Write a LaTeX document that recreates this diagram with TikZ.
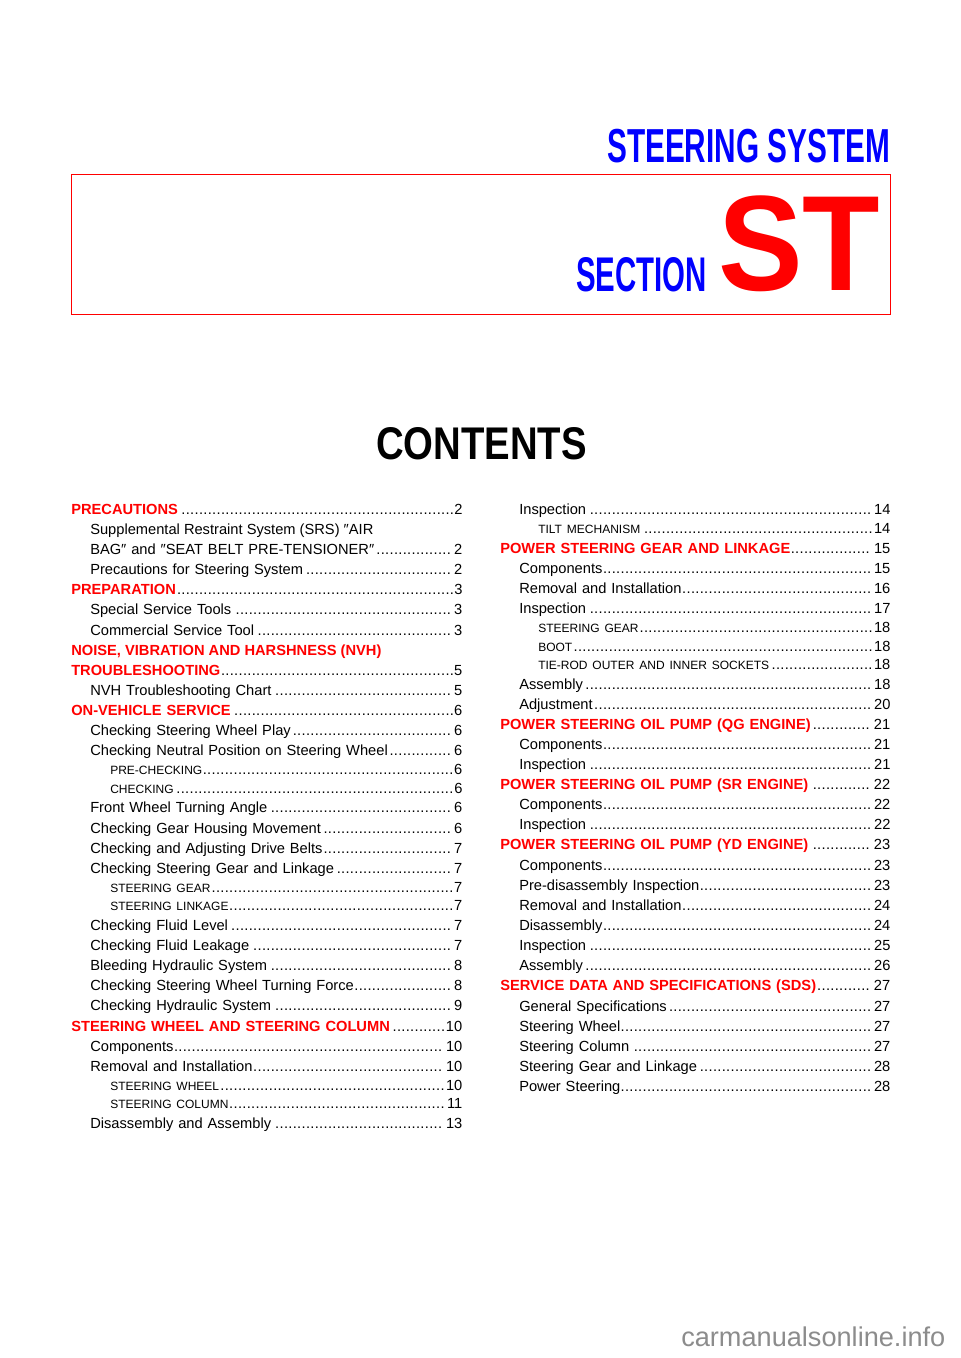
\documentclass[tikz,border=0pt]{standalone}
\usepackage{fontspec}
\usepackage{graphicx}
\setmainfont{Liberation Sans}
\definecolor{tocred}{RGB}{255,0,0}
\definecolor{tocblue}{RGB}{0,0,255}
\newcommand\dotlead{\leaders\hbox to 3.3pt{\hss.\hss}\hfill}
\newcommand\lvred[1]{\textbf{\textcolor{tocred}{#1}}}
\newcommand\lvsmall[1]{{\fontsize{9}{11}\selectfont #1}}
\newcommand\lvplain[1]{#1}

\begin{document}
\begin{tikzpicture}[
        x=0.75pt, y=-0.75pt,
        tocline/.style={anchor=base west, inner sep=0pt, font=\fontsize{11}{13}\selectfont},
        bigword/.style={anchor=south west, inner sep=0pt}
    ]
    \path[use as bounding box] (0,0) rectangle (960,1358);

    % --- Heading ---
    \node[bigword, text=tocblue] (title) at (607,163) {\resizebox{212pt}{25pt}{\bfseries STEERING SYSTEM}};
    \draw[tocred, line width=0.6pt] (71,174) rectangle (890,314);
    \node[bigword, text=tocblue] (section) at (576,292) {\resizebox{98pt}{25.5pt}{\bfseries SECTION}};
    \node[bigword, text=tocred] (st) at (718,292) {\resizebox{121.5pt}{71pt}{\bfseries ST}};
    \node[bigword] (contents) at (376,460) {\resizebox{158pt}{24pt}{\bfseries CONTENTS}};

    % --- Left column ---
    \foreach \lev/\yy/\txt/\pg [count=\i] in {
        0/514/PRECAUTIONS/2,
        1/554/{BAG″ and ″SEAT BELT PRE-TENSIONER″}/2,
        1/574/Precautions for Steering System/2,
        0/594/PREPARATION/3,
        1/614/Special Service Tools/3,
        1/635/Commercial Service Tool/3,
        0/675/TROUBLESHOOTING/5,
        1/695/NVH Troubleshooting Chart/5,
        0/715/ON-VEHICLE SERVICE/6,
        1/735/Checking Steering Wheel Play/6,
        1/755/Checking Neutral Position on Steering Wheel/6,
        2/774/PRE-CHECKING/6,
        2/793/CHECKING/6,
        1/812/Front Wheel Turning Angle/6,
        1/833/Checking Gear Housing Movement/6,
        1/853/Checking and Adjusting Drive Belts/7,
        1/873/Checking Steering Gear and Linkage/7,
        2/892/STEERING GEAR/7,
        2/910/STEERING LINKAGE/7,
        1/930/Checking Fluid Level/7,
        1/950/Checking Fluid Leakage/7,
        1/970/Bleeding Hydraulic System/8,
        1/990/Checking Steering Wheel Turning Force/8,
        1/1010/Checking Hydraulic System/9,
        0/1031/STEERING WHEEL AND STEERING COLUMN/10,
        1/1051/Components/10,
        1/1071/Removal and Installation/10,
        2/1090/STEERING WHEEL/10,
        2/1108/STEERING COLUMN/11,
        1/1128/Disassembly and Assembly/13}
    {
        \ifcase\lev \def\xx{71}\let\ff\lvred \or \def\xx{90}\let\ff\lvplain \or \def\xx{110}\let\ff\lvsmall \fi
        \pgfmathsetmacro\ww{(462-\xx)*0.75}
        \node[tocline, text width=\ww pt] (left\i) at (\xx,\yy) {\ff{\txt}\dotlead\pg};
    }
    \node[tocline] (leftsrs) at (90,534) {Supplemental Restraint System (SRS) ″AIR};
    \node[tocline] (leftnvh) at (71,655) {\lvred{NOISE, VIBRATION AND HARSHNESS (NVH)}};

    % --- Right column ---
    \foreach \lev/\yy/\txt/\pg [count=\i] in {
        1/514/Inspection/14,
        2/533/TILT MECHANISM/14,
        0/553/POWER STEERING GEAR AND LINKAGE/15,
        1/573/Components/15,
        1/593/Removal and Installation/16,
        1/613/Inspection/17,
        2/632/STEERING GEAR/18,
        2/651/BOOT/18,
        2/669/TIE-ROD OUTER AND INNER SOCKETS/18,
        1/689/Assembly/18,
        1/709/Adjustment/20,
        0/729/POWER STEERING OIL PUMP (QG ENGINE)/21,
        1/749/Components/21,
        1/769/Inspection/21,
        0/789/POWER STEERING OIL PUMP (SR ENGINE)/22,
        1/809/Components/22,
        1/829/Inspection/22,
        0/849/POWER STEERING OIL PUMP (YD ENGINE)/23,
        1/870/Components/23,
        1/890/Pre-disassembly Inspection/23,
        1/910/Removal and Installation/24,
        1/930/Disassembly/24,
        1/950/Inspection/25,
        1/970/Assembly/26,
        0/990/SERVICE DATA AND SPECIFICATIONS (SDS)/27,
        1/1011/General Specifications/27,
        1/1031/Steering Wheel/27,
        1/1051/Steering Column/27,
        1/1071/Steering Gear and Linkage/28,
        1/1091/Power Steering/28}
    {
        \ifcase\lev \def\xx{500}\let\ff\lvred \or \def\xx{519}\let\ff\lvplain \or \def\xx{538}\let\ff\lvsmall \fi
        \pgfmathsetmacro\ww{(890-\xx)*0.75}
        \node[tocline, text width=\ww pt] (right\i) at (\xx,\yy) {\ff{\txt}\dotlead\pg};
    }

    % --- Footer ---
    \node[bigword, text=black!45] (footer) at (681,1347) {\resizebox{198pt}{!}{carmanualsonline.info}};
\end{tikzpicture}
\end{document}
